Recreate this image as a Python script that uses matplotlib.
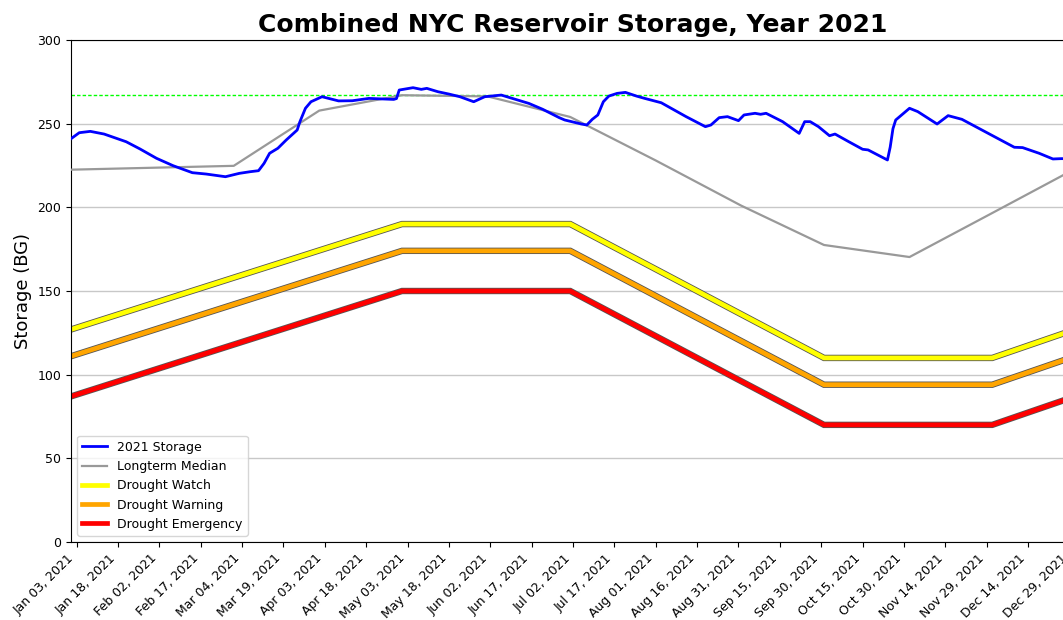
import matplotlib
matplotlib.use("Agg")
import matplotlib.pyplot as plt
import matplotlib.dates as mdates
import numpy as np
import pandas as pd

# day-of-year offsets (0 = Jan 01, 2021) and storage
storage_day = [0, 3, 7, 12, 20, 25, 31, 37, 44, 49, 56, 61, 65, 68, 70, 72, 75, 78,
               82, 83, 85, 87, 91, 97, 102, 108, 117, 118, 119, 124, 127, 129, 133,
               137, 141, 146, 150, 156, 160, 166, 171, 177, 179, 185, 187, 189, 191,
               193, 195, 198, 201, 205, 208, 214, 223, 230, 232, 235, 238, 242, 244,
               248, 250, 252, 258, 264, 266, 268, 271, 275, 277, 282, 287, 289, 296,
               297, 298, 299, 304, 307, 314, 318, 323, 333, 342, 345, 351, 356, 359, 364]
storage_bg = [241.0, 244.6, 245.4, 243.8, 239.2, 234.9, 229.3, 224.9, 220.7, 219.9,
              218.3, 220.3, 221.3, 221.9, 226.3, 232.3, 235.3, 240.2, 246.2, 251.2,
              259.2, 263.1, 266.1, 263.6, 263.7, 265.1, 264.5, 265.0, 270.1, 271.5,
              270.5, 271.1, 269.1, 267.7, 266.1, 263.1, 266.1, 267.1, 265.1, 262.1,
              258.6, 253.6, 252.2, 249.8, 249.2, 252.6, 255.2, 263.1, 266.5, 268.1,
              268.7, 266.5, 265.1, 262.5, 254.2, 248.2, 249.2, 253.6, 254.2, 251.8,
              255.2, 256.2, 255.6, 256.2, 251.2, 244.2, 251.2, 251.2, 248.2, 242.8,
              243.8, 239.2, 234.7, 234.3, 228.3, 236.0, 247.0, 252.2, 259.2, 257.2,
              249.8, 254.8, 252.6, 243.8, 235.9, 235.7, 232.3, 228.9, 229.1, 229.0]

median_dates = ["2021-01-01", "2021-03-01", "2021-04-01", "2021-05-01", "2021-06-01",
                "2021-07-01", "2021-08-01", "2021-09-01", "2021-10-01", "2021-11-01",
                "2021-12-01", "2021-12-31"]
median_bg = [222.5, 224.8, 257.8, 267.0, 266.3, 254.0, 228.0, 201.0, 177.5, 170.3,
             196.6, 223.0]

drought_dates = ["2021-01-01", "2021-05-01", "2021-07-01", "2021-10-01",
                 "2021-12-01", "2021-12-31"]
watch_bg = [127, 190, 190, 110, 110, 127]
warning_bg = [111, 174, 174, 94, 94, 111]
emergency_bg = [87, 150, 150, 70, 70, 87]

full_level = 267

tick_start = "2021-01-03"
tick_step_days = 15
n_ticks = 25

start = pd.Timestamp("2021-01-01")
s_dates = start + pd.to_timedelta(storage_day, unit="D")
m_dates = pd.to_datetime(median_dates)
d_dates = pd.to_datetime(drought_dates)

fig = plt.figure(figsize=(10.63, 6.2), dpi=100)
# axes run a little past the right edge, as in the original (cropped) image
ax = fig.add_axes([71 / 1063, 78 / 620, 1004 / 1063, 502 / 620])

ax.grid(axis="y", color="#c8c8c8", linewidth=1)
ax.set_axisbelow(True)

ax.axhline(full_level, color="lime", linestyle=(0, (2.5, 1.5)), linewidth=1)

for vals, col, lab in [(watch_bg, "yellow", "Drought Watch"),
                       (warning_bg, "orange", "Drought Warning"),
                       (emergency_bg, "red", "Drought Emergency")]:
    ax.plot(d_dates, vals, color="#555555", linewidth=4.6, solid_joinstyle="miter")
    ax.plot(d_dates, vals, color=col, linewidth=3.4, label=lab, solid_joinstyle="miter")

ax.plot(m_dates, median_bg, color="#999999", linewidth=1.6, label="Longterm Median", zorder=4)
ax.plot(s_dates, storage_bg, color="blue", linewidth=2, label="2021 Storage", zorder=5)

ax.set_xlim(pd.Timestamp("2021-01-01"), pd.Timestamp("2021-12-31"))
ax.set_ylim(0, 300)
ax.set_yticks(np.arange(0, 301, 50))

ticks = pd.Timestamp(tick_start) + pd.to_timedelta(np.arange(n_ticks) * tick_step_days, unit="D")
ax.set_xticks(ticks)
ax.xaxis.set_major_formatter(mdates.DateFormatter("%b %d, %Y"))
plt.setp(ax.get_xticklabels(), rotation=45, ha="right", fontsize=9)
plt.setp(ax.get_yticklabels(), fontsize=9)

ax.set_ylabel("Storage (BG)", fontsize=13)
ax.set_title("Combined NYC Reservoir Storage, Year 2021", fontsize=18, fontweight="bold")

handles, labels = ax.get_legend_handles_labels()
order = ["2021 Storage", "Longterm Median", "Drought Watch", "Drought Warning", "Drought Emergency"]
hmap = dict(zip(labels, handles))
ax.legend([hmap[k] for k in order], order, loc="lower left", fontsize=9)

fig.savefig("out.png", dpi=100)
